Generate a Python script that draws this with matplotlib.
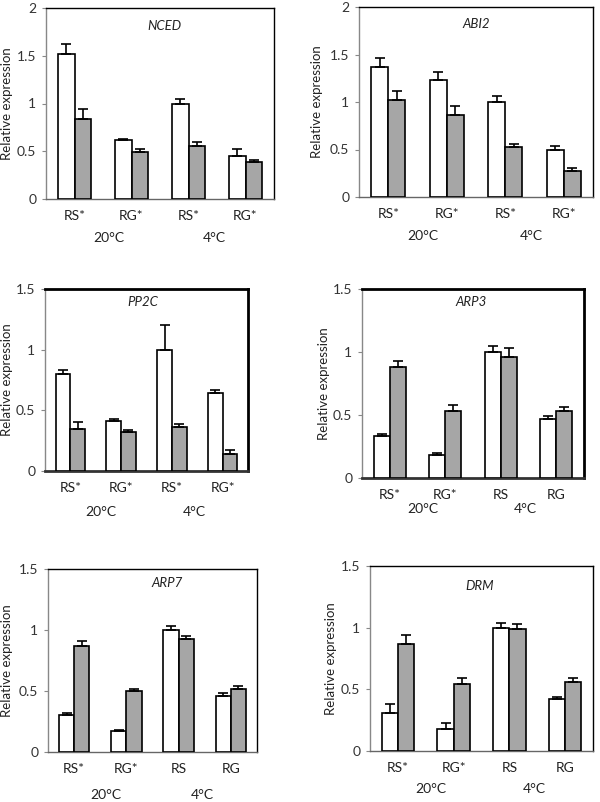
import numpy as np
import matplotlib.pyplot as plt

plt.rcParams['font.family'] = ['Lato', 'DejaVu Sans']

genes = ['NCED', 'ABI2', 'PP2C', 'ARP3', 'ARP7', 'DRM']
ymax = [2, 2, 1.5, 1.5, 1.5, 1.5]

cats_star = ['RS*', 'RG*', 'RS*', 'RG*']
cats_mixed = ['RS*', 'RG*', 'RS', 'RG']
cat_labels = [cats_star, cats_star, cats_star, cats_mixed, cats_mixed, cats_mixed]
temps = ['20°C', '4°C']

white_vals = [
    [1.52, 0.62, 1.00, 0.45],
    [1.37, 1.23, 1.00, 0.50],
    [0.80, 0.41, 1.00, 0.64],
    [0.33, 0.18, 1.00, 0.47],
    [0.30, 0.17, 1.00, 0.46],
    [0.31, 0.18, 1.00, 0.42],
]
white_err = [
    [0.10, 0.01, 0.05, 0.07],
    [0.09, 0.09, 0.06, 0.04],
    [0.03, 0.02, 0.20, 0.03],
    [0.02, 0.02, 0.05, 0.02],
    [0.02, 0.01, 0.03, 0.02],
    [0.07, 0.05, 0.04, 0.015],
]
grey_vals = [
    [0.84, 0.49, 0.55, 0.39],
    [1.02, 0.86, 0.53, 0.27],
    [0.35, 0.32, 0.36, 0.14],
    [0.88, 0.53, 0.96, 0.53],
    [0.87, 0.50, 0.93, 0.52],
    [0.87, 0.54, 0.99, 0.56],
]
grey_err = [
    [0.10, 0.03, 0.05, 0.02],
    [0.10, 0.10, 0.03, 0.035],
    [0.05, 0.02, 0.03, 0.03],
    [0.05, 0.05, 0.07, 0.03],
    [0.04, 0.02, 0.02, 0.02],
    [0.07, 0.05, 0.04, 0.03],
]

W, H = 600, 802
# axes boxes in pixels: left, top, right, bottom
boxes = [
    (46, 8, 274, 199),
    (359, 7, 593, 197),
    (45, 289, 248, 471),
    (362, 289, 584, 478),
    (48, 569, 257, 752),
    (370, 566, 593, 751),
]
thick = [False, False, True, True, False, False]
title_pos = [(0.52, 18), (0.5, 17), (0.48, 13), (0.49, 13), (0.57, 14), (0.49, 20)]
temp_off = [39, 39, 41, 31, 43, 38]
ylab_off = [33, 36, 32, 32, 35, 33]

fig = plt.figure(figsize=(6, 8.02), dpi=100)
x = np.arange(4)
bw = 0.29

for i, g in enumerate(genes):
    l, t, r, b = boxes[i]
    ax = fig.add_axes([l / W, 1 - b / H, (r - l) / W, (b - t) / H])
    ax.bar(x - bw / 2, white_vals[i], bw, color='white', edgecolor='black', linewidth=1.2,
           yerr=[np.zeros(4), white_err[i]], error_kw=dict(ecolor='black', elinewidth=1.2, capsize=3.5, capthick=1.2), zorder=3)
    ax.bar(x + bw / 2, grey_vals[i], bw, color='#a6a6a6', edgecolor='black', linewidth=1.2,
           yerr=[np.zeros(4), grey_err[i]], error_kw=dict(ecolor='black', elinewidth=1.2, capsize=3.5, capthick=1.2), zorder=3)
    ax.set_xlim(-0.5, 3.5)
    ax.set_ylim(0, ymax[i])
    ax.set_yticks(np.arange(0, ymax[i] + 0.01, 0.5))
    ax.set_yticklabels([f'{v:g}' for v in np.arange(0, ymax[i] + 0.01, 0.5)])
    ax.set_xticks(x)
    ax.set_xticklabels(cat_labels[i], fontsize=10, color='#222222')
    ax.tick_params(axis='x', length=0, pad=8)
    ax.tick_params(axis='y', length=3, color='#888888', labelsize=10, labelcolor='#333333', pad=4)

    lw = 2.0 if thick[i] else 1.0
    for s in ['top', 'right']:
        ax.spines[s].set_color('black')
        ax.spines[s].set_linewidth(lw)
    ax.spines['left'].set_color('#888888')
    ax.spines['left'].set_linewidth(1.0)
    ax.spines['bottom'].set_color('#333333' if thick[i] else '#666666')
    ax.spines['bottom'].set_linewidth(lw)

    ax.set_ylabel('Relative expression', fontsize=9.5, color='#222222')
    ax.yaxis.set_label_coords(-ylab_off[i] / (r - l), 0.5)

    tx, toff = title_pos[i]
    ax.text(tx, 1 - toff / (b - t), g, transform=ax.transAxes, ha='center', va='center',
            fontsize=9.5, style='italic', color='#222222')

    for xt, lab in zip([0.6, 2.45], temps):
        ax.annotate(lab, xy=(xt, 0), xycoords=('data', 'axes fraction'),
                    xytext=(0, -temp_off[i]), textcoords='offset pixels',
                    ha='center', va='center', fontsize=10, color='#222222')

fig.savefig('out.png', dpi=100)
